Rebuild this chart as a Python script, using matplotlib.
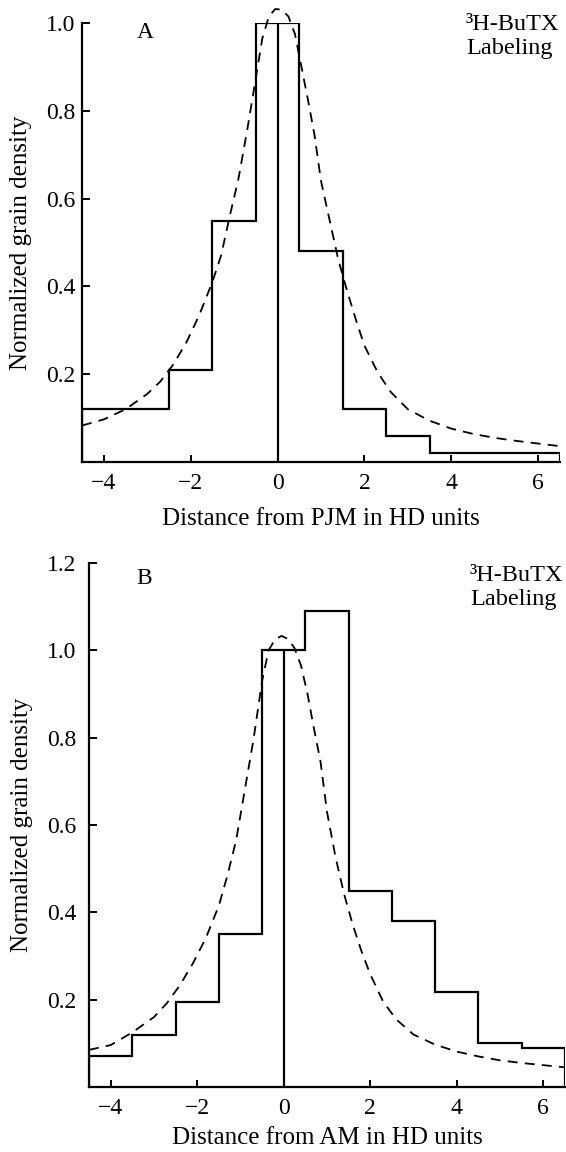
"""Grain density profiles for 3H-BuTX labeling (panels A and B)."""

import matplotlib.pyplot as plt

plt.rcParams["font.family"] = ["Liberation Serif", "DejaVu Serif"]

# Histogram bin edges shared by both panels (HD units)
bin_edges = [-4.5, -3.5, -2.5, -1.5, -0.5, 0.5, 1.5, 2.5, 3.5, 4.5, 5.5, 6.5]

# Panel A: distance from PJM
density_a = [0.12, 0.12, 0.21, 0.55, 1.00, 0.48, 0.12, 0.06, 0.02, 0.02, 0.02]
curve_x_a = [-4.5, -4.0, -3.5, -3.0, -2.7, -2.4, -2.1, -1.8, -1.5, -1.3, -1.1,
             -0.9, -0.7, -0.5, -0.35, -0.2, -0.05, 0.1, 0.25, 0.4, 0.55, 0.7,
             0.85, 1.0, 1.2, 1.4, 1.6, 1.8, 2.0, 2.3, 2.6, 3.0, 3.5, 4.0, 4.5,
             5.0, 5.5, 6.0, 6.5]
curve_y_a = [0.083, 0.097, 0.12, 0.155, 0.183, 0.222, 0.272, 0.335, 0.41, 0.47,
             0.56, 0.645, 0.755, 0.875, 0.965, 1.015, 1.032, 1.03, 1.015, 0.975,
             0.9, 0.825, 0.745, 0.64, 0.55, 0.46, 0.39, 0.325, 0.265, 0.205,
             0.16, 0.12, 0.094, 0.076, 0.064, 0.055, 0.048, 0.042, 0.036]

# Panel B: distance from AM
density_b = [0.07, 0.12, 0.195, 0.35, 1.00, 1.09, 0.45, 0.38, 0.217, 0.10, 0.09]
curve_x_b = [-4.5, -4.0, -3.5, -3.0, -2.7, -2.4, -2.1, -1.8, -1.5, -1.3, -1.1,
             -0.9, -0.7, -0.5, -0.35, -0.2, -0.05, 0.1, 0.25, 0.4, 0.55, 0.7,
             0.85, 1.0, 1.2, 1.4, 1.6, 1.8, 2.0, 2.3, 2.6, 3.0, 3.5, 4.0, 4.5,
             5.0, 5.5, 6.0, 6.5]
curve_y_b = [0.085, 0.096, 0.125, 0.16, 0.192, 0.233, 0.283, 0.341, 0.415, 0.485,
             0.565, 0.68, 0.795, 0.93, 1.0, 1.025, 1.033, 1.026, 1.005, 0.965,
             0.9, 0.82, 0.745, 0.63, 0.525, 0.44, 0.37, 0.31, 0.258, 0.195,
             0.155, 0.12, 0.097, 0.081, 0.07, 0.061, 0.055, 0.05, 0.045]

# Junction marker (x position and height)
marker_x = 0.0
marker_top = 1.0

x_ticks = [-4, -2, 0, 2, 4, 6]
y_ticks_a = [0.2, 0.4, 0.6, 0.8, 1.0]
y_ticks_b = [0.2, 0.4, 0.6, 0.8, 1.0, 1.2]

W, H = 566, 1152


def draw_panel(ax, density, curve_x, curve_y, y_ticks, ymax, xlabel, ypad, xpad):
    """Dibuja un panel: histograma escalonado, curva discontinua y marca central."""
    ax.stairs(density, bin_edges, baseline=0, color="black", lw=1.6)
    ax.plot(curve_x, curve_y, color="black", lw=1.3, ls=(0, (5.5, 4)),
            clip_on=False)
    ax.vlines(marker_x, 0, marker_top, color="black", lw=1.6)

    ax.set_xlim(bin_edges[0], bin_edges[-1])
    ax.set_ylim(0, ymax)
    ax.set_xticks(x_ticks)
    ax.set_yticks(y_ticks)
    ax.set_yticklabels([f"{v:.1f}" for v in y_ticks])
    ax.tick_params(direction="in", length=6, width=1.4, labelsize=17)
    ax.tick_params(axis="x", pad=8, length=5)
    ax.tick_params(axis="y", pad=ypad)
    for side in ("top", "right"):
        ax.spines[side].set_visible(False)
    for side in ("left", "bottom"):
        ax.spines[side].set_linewidth(1.6)
    ax.set_xlabel(xlabel, fontsize=18, labelpad=xpad)
    ax.set_ylabel("Normalized grain density", fontsize=18, labelpad=10)


fig = plt.figure(figsize=(W / 100, H / 100), dpi=100)

ax_a = fig.add_axes([82 / W, 1 - 462 / H, 478 / W, 439 / H])
draw_panel(ax_a, density_a, curve_x_a, curve_y_a, y_ticks_a, 1.0,
           "Distance from PJM in HD units", 5, 10)

ax_b = fig.add_axes([89 / W, 1 - 1087 / H, 476 / W, 524 / H])
draw_panel(ax_b, density_b, curve_x_b, curve_y_b, y_ticks_b, 1.2,
           "Distance from AM in HD units", 9, 6)

fig.text(145 / W, 1 - 33 / H, "A", fontsize=17, ha="center", va="center")
fig.text(144 / W, 1 - 578 / H, "B", fontsize=17, ha="center", va="center")
fig.text(466 / W, 1 - 14 / H, "³H-BuTX\nLabeling", fontsize=17.5,
         ha="left", va="top", linespacing=1.2)
fig.text(470 / W, 1 - 565 / H, "³H-BuTX\nLabeling", fontsize=17.5,
         ha="left", va="top", linespacing=1.2)

fig.savefig("out.png", dpi=100)
